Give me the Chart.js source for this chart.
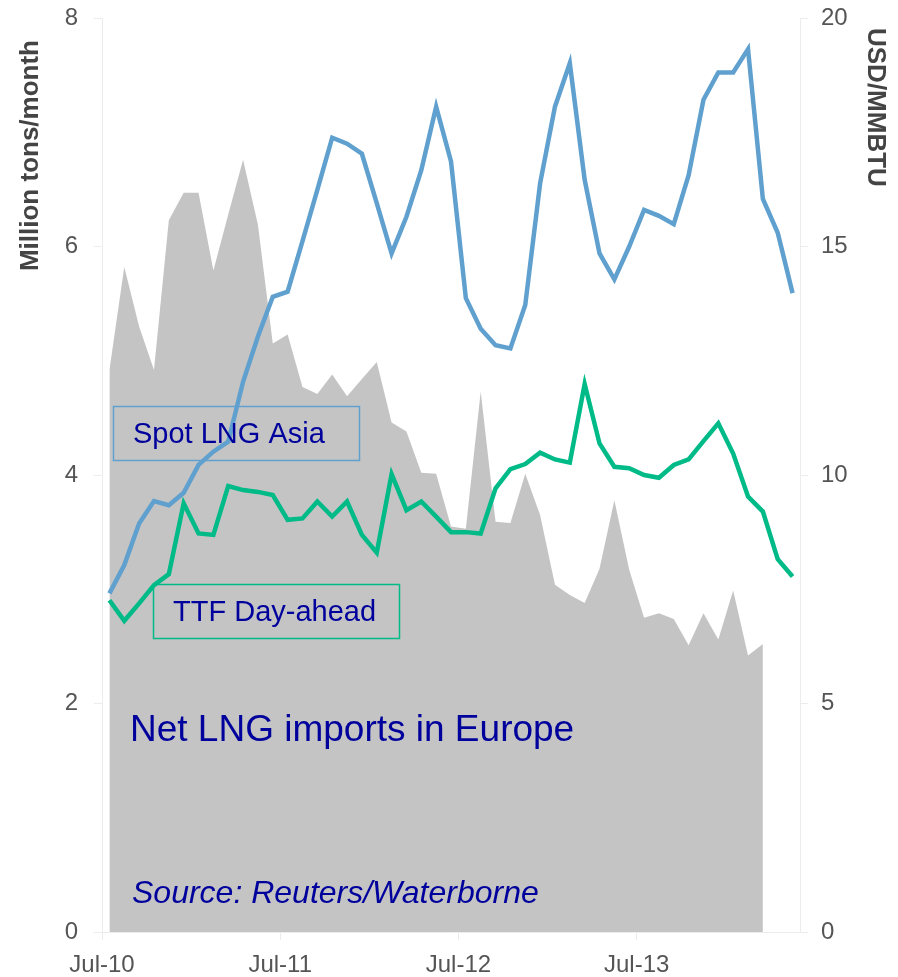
<!DOCTYPE html>
<html>
<head>
<meta charset="utf-8">
<script src="https://cdn.jsdelivr.net/npm/chart.js@4.4.1/dist/chart.umd.min.js"></script>
<style>
  html, body { margin: 0; padding: 0; background: #fff; }
  #wrap { width: 898px; height: 977px; }
</style>
</head>
<body>
<div id="wrap"><canvas id="myChart" width="898" height="977"></canvas></div>
<script>
// monthly series starting Jul-10
var xTickLabels = ['Jul-10', 'Jul-11', 'Jul-12', 'Jul-13'];

// Net LNG imports in Europe, million tons/month (Jul-10 .. Mar-14)
var lngImports = [4.92, 5.82, 5.30, 4.92, 6.23, 6.47, 6.47, 5.79, 6.28, 6.76, 6.19, 5.15,
  5.23, 4.77, 4.71, 4.88, 4.69, 4.84, 4.99, 4.46, 4.38, 4.02, 4.01, 3.55,
  3.53, 4.73, 3.59, 3.58, 4.01, 3.65, 3.04, 2.95, 2.88, 3.18, 3.78, 3.17,
  2.75, 2.79, 2.74, 2.51, 2.79, 2.56, 2.99, 2.42, 2.52];

// Spot LNG Asia, USD/MMBTU (Jul-10 .. May-14)
var spotAsia = [7.41, 8.03, 8.94, 9.43, 9.34, 9.61, 10.22, 10.51, 10.73, 12.04, 13.03, 13.90,
  14.01, 15.12, 16.24, 17.38, 17.25, 17.03, 15.95, 14.85, 15.65, 16.67, 18.06, 16.86,
  13.87, 13.20, 12.84, 12.77, 13.72, 16.38, 18.06, 19.01, 16.46, 14.85, 14.28, 15.00,
  15.80, 15.67, 15.49, 16.56, 18.21, 18.81, 18.81, 19.32, 16.04, 15.30, 13.98];

// TTF Day-ahead, USD/MMBTU
var ttfDayAhead = [7.26, 6.81, 7.19, 7.59, 7.83, 9.38, 8.72, 8.69, 9.76, 9.67, 9.63, 9.56,
  9.02, 9.05, 9.42, 9.09, 9.42, 8.69, 8.30, 10.02, 9.23, 9.42, 9.09, 8.75,
  8.75, 8.72, 9.71, 10.13, 10.24, 10.49, 10.34, 10.27, 11.99, 10.69, 10.18, 10.15,
  10.00, 9.94, 10.22, 10.34, 10.74, 11.13, 10.47, 9.53, 9.20, 8.16, 7.78];

function toPoints(arr) {
  // each month sits in the middle of its slot
  return arr.map(function (v, i) { return { x: i + 0.5, y: v }; });
}

var FONT = '"Liberation Sans", Arial, sans-serif';
var NAVY = '#00009c';
var BLUE = '#60a0cf';
var GREEN = '#00ba87';
var AXIS = '#ececec';

var textPlugin = {
  id: 'texts',
  afterDatasetsDraw: function (chart) {
    var ctx = chart.ctx;
    ctx.save();

    // boxes
    ctx.lineWidth = 1.5;
    ctx.strokeStyle = BLUE;
    ctx.strokeRect(113.5, 406.5, 246, 54);
    ctx.strokeStyle = GREEN;
    ctx.strokeRect(153.5, 584.5, 246, 54);

    ctx.fillStyle = NAVY;
    ctx.textAlign = 'left';
    ctx.textBaseline = 'alphabetic';
    ctx.font = '29px ' + FONT;
    ctx.fillText('Spot LNG Asia', 133, 443);
    ctx.fillText('TTF Day-ahead', 173, 621);

    ctx.font = '37px ' + FONT;
    ctx.fillText('Net LNG imports in Europe', 130, 741);
    ctx.font = 'italic 32px ' + FONT;
    ctx.fillText('Source: Reuters/Waterborne', 132, 903);

    // axis titles
    ctx.fillStyle = '#444';
    ctx.font = 'bold 26px ' + FONT;
    ctx.textBaseline = 'middle';
    ctx.save();
    ctx.translate(31, 40);
    ctx.rotate(-Math.PI / 2);
    ctx.textAlign = 'right';
    ctx.fillText('Million tons/month', 0, 0);
    ctx.restore();

    ctx.save();
    ctx.translate(875, 28);
    ctx.rotate(Math.PI / 2);
    ctx.textAlign = 'left';
    ctx.fillText('USD/MMBTU', 0, 0);
    ctx.restore();

    ctx.restore();
  }
};

function fixY(width) {
  return function (s) {
    s.width = width;
    s.paddingTop = 0;
    s.paddingBottom = 0;
  };
}

var chart;
window.addEventListener('load', function () {
  var ctx = document.getElementById('myChart').getContext('2d');
  chart = new Chart(ctx, {
    type: 'line',
    data: {
      datasets: [{
        label: 'Spot LNG Asia',
        data: toPoints(spotAsia),
        yAxisID: 'y1',
        borderColor: BLUE,
        borderWidth: 4.5,
        pointRadius: 0,
        fill: false,
        tension: 0
      }, {
        label: 'TTF Day-ahead',
        data: toPoints(ttfDayAhead),
        yAxisID: 'y1',
        borderColor: GREEN,
        borderWidth: 4.5,
        pointRadius: 0,
        fill: false,
        tension: 0
      }, {
        label: 'Net LNG imports in Europe',
        data: toPoints(lngImports),
        yAxisID: 'y',
        borderWidth: 0,
        borderColor: 'rgba(0,0,0,0)',
        backgroundColor: '#c4c4c4',
        pointRadius: 0,
        fill: 'origin',
        tension: 0
      }]
    },
    options: {
      responsive: false,
      animation: false,
      layout: { padding: { top: 18, left: 0, right: 0, bottom: 0 } },
      plugins: {
        legend: { display: false },
        tooltip: { enabled: false }
      },
      scales: {
        x: {
          type: 'linear',
          min: 0,
          max: 47,
          grid: { drawOnChartArea: false, color: AXIS, tickLength: 8 },
          border: { color: AXIS },
          ticks: {
            stepSize: 12,
            includeBounds: false,
            maxRotation: 0,
            padding: 11,
            color: '#555',
            font: { family: FONT, size: 24 },
            callback: function (v) { return xTickLabels[v / 12]; }
          },
          afterFit: function (s) { s.height = 45; }
        },
        y: {
          position: 'left',
          min: 0,
          max: 8,
          grid: { drawOnChartArea: false, color: AXIS, tickLength: 8 },
          border: { color: AXIS },
          ticks: {
            stepSize: 2,
            padding: 16,
            color: '#555',
            font: { family: FONT, size: 24 }
          },
          afterFit: fixY(102)
        },
        y1: {
          position: 'right',
          min: 0,
          max: 20,
          grid: { drawOnChartArea: false, color: AXIS, tickLength: 8 },
          border: { color: AXIS },
          ticks: {
            stepSize: 5,
            padding: 13,
            color: '#555',
            font: { family: FONT, size: 24 }
          },
          afterFit: fixY(98)
        }
      }
    },
    plugins: [textPlugin]
  });
});
</script>
</body>
</html>
